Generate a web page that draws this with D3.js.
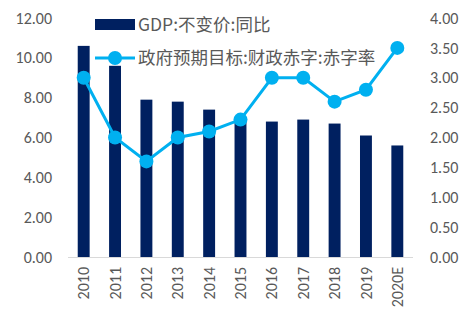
<!DOCTYPE html>
<html><head><meta charset="utf-8">
<script src="https://cdn.jsdelivr.net/npm/d3@7"></script>
<style>html,body{margin:0;padding:0;background:#fff;}</style>
</head><body>
<svg id="chart" width="470" height="322"></svg>
<script>
const years = ["2010","2011","2012","2013","2014","2015","2016","2017","2018","2019","2020E"];
const gdpGrowth = [10.6, 9.6, 7.9, 7.8, 7.4, 6.9, 6.8, 6.9, 6.7, 6.1, 5.6];
const deficitRate = [3.0, 2.0, 1.6, 2.0, 2.1, 2.3, 3.0, 3.0, 2.6, 2.8, 3.5];
const leftTicks = [0, 2, 4, 6, 8, 10, 12];
const rightTicks = [0, 0.5, 1, 1.5, 2, 2.5, 3, 3.5, 4];
const legendLabels = ["GDP:不变价:同比", "政府预期目标:财政赤字:赤字率"];

const svg = d3.select("#chart");
const font = "Carlito, 'Open Sans', sans-serif";
const cjkFont = "'Noto Sans CJK SC', sans-serif";
const textColor = "#595959";
const barColor = "#002060";
const lineColor = "#00b0f0";

const m = {left: 68, right: 413, top: 18, bottom: 257};
const x = d3.scaleBand().domain(years).range([m.left, m.right]).paddingInner(0.62).paddingOuter(0.31);
const yL = d3.scaleLinear().domain([0, 12]).range([m.bottom, m.top]);
const yR = d3.scaleLinear().domain([0, 4]).range([m.bottom, m.top]);

// bars: GDP growth on the left axis
svg.append("g").selectAll("rect").data(years).join("rect")
  .attr("x", d => x(d))
  .attr("width", x.bandwidth())
  .attr("y", (d, i) => yL(gdpGrowth[i]))
  .attr("height", (d, i) => yL(0) - yL(gdpGrowth[i]))
  .attr("fill", barColor);

// baseline
svg.append("line").attr("x1", m.left).attr("x2", m.right)
  .attr("y1", yL(0) + 0.5).attr("y2", yL(0) + 0.5)
  .attr("stroke", "#d9d9d9").attr("stroke-width", 1);

// left axis
const axL = d3.axisLeft(yL).tickValues(leftTicks).tickFormat(d3.format(".2f")).tickSize(0).tickPadding(0);
const gL = svg.append("g").attr("transform", "translate(52,0)").call(axL);
gL.select(".domain").remove();
gL.selectAll("text").attr("fill", textColor).style("font-family", font).style("font-size", "16px");

// right axis
const axR = d3.axisRight(yR).tickValues(rightTicks).tickFormat(d3.format(".2f")).tickSize(0).tickPadding(0);
const gR = svg.append("g").attr("transform", "translate(430,0)").call(axR);
gR.select(".domain").remove();
gR.selectAll("text").attr("fill", textColor).style("font-family", font).style("font-size", "16px");

// x axis labels (rotated)
const axX = d3.axisBottom(x).tickSize(0).tickPadding(0);
const gX = svg.append("g").attr("transform", `translate(0,${yL(0)})`).call(axX);
gX.select(".domain").remove();
gX.selectAll("text")
  .attr("transform", "rotate(-90)")
  .attr("x", -10).attr("y", 0).attr("dy", "0.35em")
  .attr("text-anchor", "end")
  .attr("fill", textColor).style("font-family", font).style("font-size", "16px");

// line series: deficit rate on the right axis
const cx = (d, i) => x(years[i]) + x.bandwidth() / 2;
const line = d3.line().x(cx).y(d => yR(d));
svg.append("path").datum(deficitRate).attr("d", line)
  .attr("fill", "none").attr("stroke", lineColor).attr("stroke-width", 3);
svg.append("g").selectAll("circle").data(deficitRate).join("circle")
  .attr("cx", cx).attr("cy", d => yR(d)).attr("r", 7).attr("fill", lineColor);

// legend
const lg = svg.append("g");
lg.append("rect").attr("x", 95).attr("y", 19).attr("width", 40).attr("height", 11).attr("fill", barColor);
lg.append("text").attr("x", 138).attr("y", 25).attr("dy", "0.35em")
  .attr("fill", textColor).style("font-family", cjkFont).style("font-size", "17.5px").text(legendLabels[0]);
lg.append("line").attr("x1", 95).attr("x2", 135).attr("y1", 58).attr("y2", 58)
  .attr("stroke", lineColor).attr("stroke-width", 3);
lg.append("circle").attr("cx", 115).attr("cy", 58).attr("r", 7).attr("fill", lineColor);
lg.append("text").attr("x", 138).attr("y", 58).attr("dy", "0.35em")
  .attr("fill", textColor).style("font-family", cjkFont).style("font-size", "17.5px").text(legendLabels[1]);
</script>
</body></html>
